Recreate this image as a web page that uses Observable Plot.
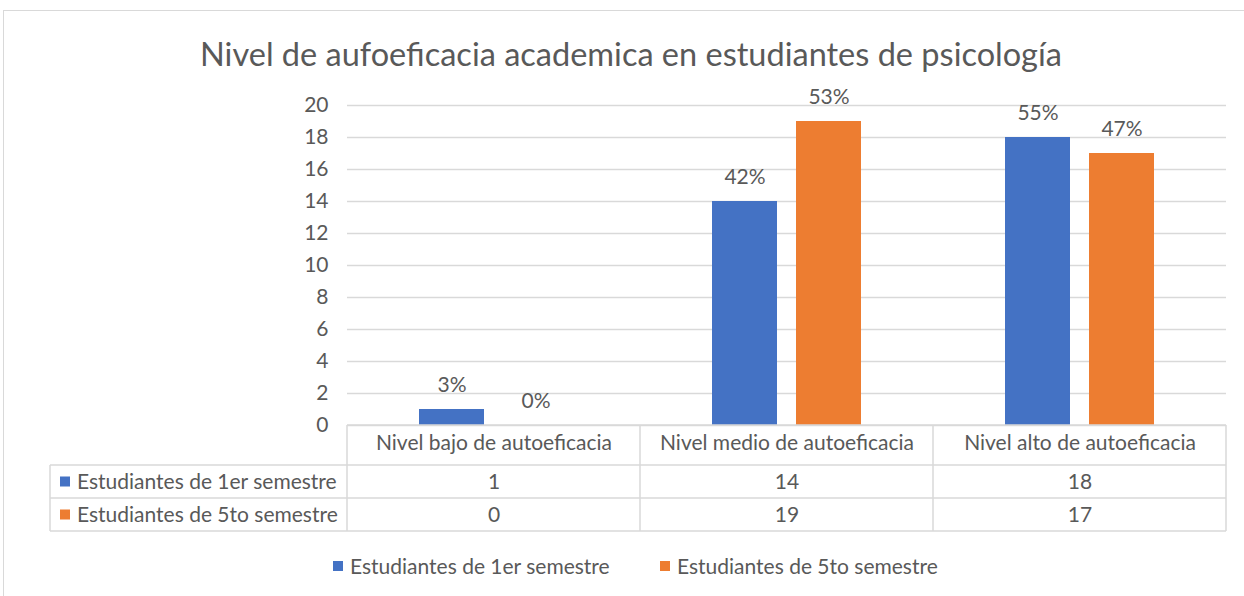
<!DOCTYPE html>
<html>
<head>
<meta charset="utf-8">
<script src="https://cdn.jsdelivr.net/npm/d3@7"></script>
<script src="https://cdn.jsdelivr.net/npm/@observablehq/plot@0.6"></script>
<style>
  body { margin: 0; background: #fff; font-family: Lato, "Open Sans", sans-serif; }
  #wrap { position: relative; width: 1244px; height: 596px; overflow: hidden; background: #fff; }
  #frame { position: absolute; left: 3px; top: 10px; width: 1270px; height: 620px; border: 1px solid #d9d9d9; box-sizing: border-box; }
  #title { position: absolute; left: 0; width: 1262px; top: 34px; text-align: center; font-size: 32.5px; color: #595959; line-height: 40px; white-space: nowrap; }
  #chart { position: absolute; left: 0; top: 0; }
  .leg { position: absolute; top: 555px; height: 22px; line-height: 22px; font-size: 21px; color: #595959; white-space: nowrap; }
  .sw { position: absolute; width: 10px; height: 10px; top: 561px; }
</style>
</head>
<body>
<div id="wrap">
  <div id="frame"></div>
  <div id="title"></div>
  <div id="chart"></div>
  <div id="legend"></div>
</div>
<script>
const title = "Nivel de aufoeficacia academica en estudiantes de psicología";
const categories = ["Nivel bajo de autoeficacia", "Nivel medio de autoeficacia", "Nivel alto de autoeficacia"];
const series = ["Estudiantes de 1er semestre", "Estudiantes de 5to semestre"];
const primerSemestre = [1, 14, 18];
const quintoSemestre = [0, 19, 17];
const pctPrimer = ["3%", "42%", "55%"];
const pctQuinto = ["0%", "53%", "47%"];
const yTicks = [0, 2, 4, 6, 8, 10, 12, 14, 16, 18, 20];
const colors = ["#4472C4", "#ED7D31"];

const textColor = "#595959";
const lineColor = "#d9d9d9";
const fontFam = "Lato, 'Open Sans', sans-serif";
const fs = 21;

document.getElementById("title").textContent = title;

const rows = [];
categories.forEach((c, i) => {
  rows.push({category: c, series: series[0], value: primerSemestre[i], pct: pctPrimer[i]});
  rows.push({category: c, series: series[1], value: quintoSemestre[i], pct: pctQuinto[i]});
});

const plot = Plot.plot({
  width: 1244,
  height: 545,
  marginTop: 105,
  marginBottom: 120,
  marginLeft: 347,
  marginRight: 18,
  style: {fontFamily: fontFam, fontSize: fs + "px", color: textColor, background: "transparent", overflow: "visible"},
  fx: {domain: categories, padding: 0, axis: null},
  x: {domain: series, paddingInner: 0.226, paddingOuter: 0.857, axis: null},
  y: {domain: [0, 20], ticks: yTicks, tickSize: 0, tickPadding: 19, label: null, tickFormat: d => String(d)},
  color: {domain: series, range: colors},
  marks: [
    Plot.ruleY(yTicks, {stroke: lineColor, strokeWidth: 1.3}),
    Plot.barY(rows, {fx: "category", x: "series", y: "value", fill: "series"}),
    Plot.text(rows, {fx: "category", x: "series", y: "value", text: "pct", dy: -24, fill: textColor, fontSize: fs}),
    Plot.text(categories, {fx: d => d, y: () => 0, text: d => d, dy: 18, fill: textColor, fontSize: fs}),
    Plot.text(rows.filter(r => r.series === series[0]), {fx: "category", y: () => 0, text: d => String(d.value), dy: 57, fill: textColor, fontSize: fs}),
    Plot.text(rows.filter(r => r.series === series[1]), {fx: "category", y: () => 0, text: d => String(d.value), dy: 90, fill: textColor, fontSize: fs})
  ]
});
document.getElementById("chart").appendChild(plot);

// Data table grid lines, positioned with the plot's own scales
const fx = plot.scale("fx");
const y = plot.scale("y");
const y0 = y.apply(0);
const rowH = [40, 33, 33];
const yH = y0, yR1 = y0 + rowH[0], yR2 = yR1 + rowH[1], yEnd = yR2 + rowH[2];
const xStart = fx.apply(categories[0]);
const xEnd = fx.apply(categories[categories.length - 1]) + fx.bandwidth;
const xLabel = 50;
const svg = d3.select(plot);
const g = svg.append("g").attr("stroke", lineColor).attr("stroke-width", 1.5).attr("fill", "none");
g.append("line").attr("x1", xStart).attr("x2", xEnd).attr("y1", yH).attr("y2", yH);
[yR1, yR2, yEnd].forEach(yy => g.append("line").attr("x1", xLabel).attr("x2", xEnd).attr("y1", yy).attr("y2", yy));
g.append("line").attr("x1", xLabel).attr("x2", xLabel).attr("y1", yR1).attr("y2", yEnd);
categories.forEach(c => {
  const xx = fx.apply(c);
  g.append("line").attr("x1", xx).attr("x2", xx).attr("y1", yH).attr("y2", yEnd);
});
g.append("line").attr("x1", xEnd).attr("x2", xEnd).attr("y1", yH).attr("y2", yEnd);

// Row labels with colour keys
const rl = svg.append("g").attr("text-anchor", "start");
[[yR1, yR2], [yR2, yEnd]].forEach(([a, b], i) => {
  const cy = (a + b) / 2;
  rl.append("rect").attr("x", 60).attr("y", cy - 5).attr("width", 10).attr("height", 10).attr("fill", colors[i]);
  rl.append("text").attr("x", 77).attr("y", cy).attr("dy", "0.35em").attr("fill", textColor)
    .attr("text-anchor", "start")
    .attr("font-family", fontFam).attr("font-size", fs).text(series[i]);
});

// Legend
const legend = document.getElementById("legend");
const legX = [333, 660];
series.forEach((s, i) => {
  const sw = document.createElement("div");
  sw.className = "sw"; sw.style.left = legX[i] + "px"; sw.style.background = colors[i];
  legend.appendChild(sw);
  const t = document.createElement("div");
  t.className = "leg"; t.style.left = (legX[i] + 17) + "px"; t.textContent = s;
  legend.appendChild(t);
});
</script>
</body>
</html>
